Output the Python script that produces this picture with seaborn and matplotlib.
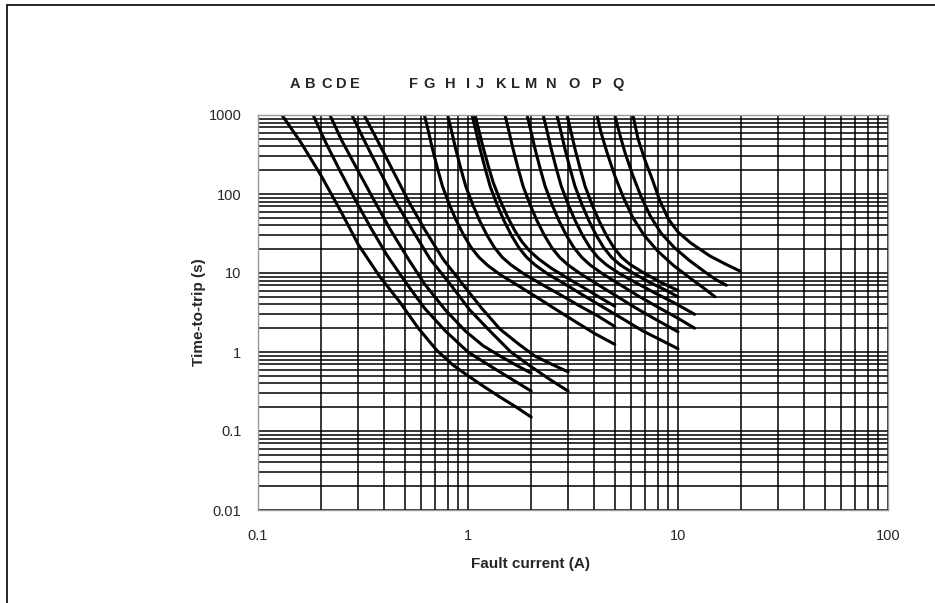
import pandas as pd
import matplotlib
matplotlib.use('Agg')
import matplotlib.pyplot as plt
import matplotlib.transforms as mtransforms
from matplotlib.patches import Rectangle
import seaborn as sns

# --------------------------
# Data: time-current curves A..Q (fault current in A, time-to-trip in s)
# --------------------------
curve_names = list("ABCDEFGHIJKLMNOPQ")

curve_a_x = [0.13, 0.16, 0.20, 0.25, 0.30, 0.38, 0.47, 0.58, 0.71, 0.85, 1.0, 1.2, 1.45, 1.7, 2.0]
curve_a_y = [1000, 450, 170, 58, 23, 9.0, 4.4, 2.0, 1.05, 0.68, 0.50, 0.36, 0.26, 0.20, 0.15]
curve_b_x = [0.183, 0.21, 0.246, 0.29, 0.341, 0.41, 0.50, 0.62, 0.78, 1.0, 1.27, 1.6, 2.0]
curve_b_y = [1000, 450, 195, 85, 39, 17, 7.9, 3.6, 1.85, 1.0, 0.67, 0.46, 0.32]
curve_c_x = [0.22, 0.25, 0.30, 0.36, 0.425, 0.52, 0.62, 0.78, 0.97, 1.18, 1.42, 1.7, 2.0]
curve_c_y = [1000, 480, 195, 80, 36, 15, 7.3, 3.4, 1.85, 1.2, 0.89, 0.68, 0.54]
curve_d_x = [0.28, 0.32, 0.38, 0.45, 0.54, 0.66, 0.82, 1.02, 1.27, 1.6, 1.97, 2.45, 3.0]
curve_d_y = [1000, 480, 195, 82, 36, 15, 7.3, 3.4, 1.85, 1.0, 0.67, 0.45, 0.32]
curve_e_x = [0.32, 0.37, 0.44, 0.52, 0.62, 0.76, 0.94, 1.16, 1.42, 1.75, 2.08, 2.5, 3.0]
curve_e_y = [1000, 480, 195, 82, 36, 15, 7.3, 3.6, 1.95, 1.25, 0.89, 0.70, 0.56]
curve_f_x = [0.62, 0.645, 0.676, 0.716, 0.756, 0.818, 0.880, 0.955, 1.035, 1.128, 1.24, 1.426,
             1.736, 2.108, 2.604, 3.224, 4.03, 5.0]
curve_f_y = [1000, 650, 380, 210, 125, 72, 46, 30, 21, 15.8, 12.5, 9.5, 6.9, 5.0, 3.5, 2.45, 1.7, 1.25]
curve_g_x = [0.80, 0.832, 0.872, 0.924, 0.976, 1.056, 1.136, 1.232, 1.336, 1.456, 1.60, 1.84,
             2.24, 2.72, 3.36, 4.16, 5.0]
curve_g_y = [1000, 650, 380, 210, 125, 72, 46, 30, 21, 15.8, 12.7, 9.8, 7.2, 5.4, 3.9, 2.85, 2.1]
curve_h_x = [1.045, 1.087, 1.139, 1.207, 1.275, 1.379, 1.484, 1.609, 1.745, 1.902, 2.09, 2.40,
             2.93, 3.55, 4.39, 5.43, 6.79, 8.36, 10]
curve_h_y = [1000, 650, 380, 210, 125, 72, 46, 30, 21, 15.8, 12.6, 9.7, 7.1, 5.2, 3.7, 2.65, 1.85, 1.4, 1.1]
curve_i_x = [1.08, 1.123, 1.177, 1.247, 1.318, 1.426, 1.534, 1.663, 1.804, 1.966, 2.16, 2.48,
             3.02, 3.67, 4.3, 5.0]
curve_i_y = [1000, 660, 400, 230, 140, 82, 53, 35, 25, 19, 15.2, 11.6, 8.4, 6.2, 4.8, 3.8]
curve_j_x = [1.5, 1.56, 1.635, 1.733, 1.83, 1.98, 2.13, 2.31, 2.505, 2.73, 3.0, 3.45, 4.2, 5.1,
             6.3, 7.8, 10]
curve_j_y = [1000, 650, 380, 210, 125, 72, 46, 30, 21, 15.8, 12.6, 9.7, 7.0, 5.1, 3.6, 2.6, 1.8]
curve_k_x = [1.91, 1.986, 2.082, 2.206, 2.33, 2.52, 2.71, 2.94, 3.19, 3.48, 3.82, 4.39, 5.35,
             6.49, 8.02, 9.93, 12]
curve_k_y = [1000, 650, 380, 210, 125, 72, 46, 30, 21, 15.8, 12.6, 9.7, 7.0, 5.1, 3.7, 2.7, 2.0]
curve_l_x = [2.28, 2.371, 2.485, 2.633, 2.782, 3.01, 3.238, 3.511, 3.808, 4.15, 4.56, 5.24,
             6.38, 7.75, 9.58, 12]
curve_l_y = [1000, 650, 380, 210, 125, 72, 46, 30, 21, 15.8, 12.7, 9.9, 7.4, 5.6, 4.2, 3.0]
curve_m_x = [2.65, 2.756, 2.889, 3.061, 3.233, 3.498, 3.763, 4.081, 4.426, 4.82, 5.3, 6.1, 7.4,
             8.7, 10]
curve_m_y = [1000, 650, 380, 210, 125, 72, 46, 30, 21, 15.8, 12.7, 10.0, 7.5, 6.1, 5.0]
curve_n_x = [2.96, 3.078, 3.226, 3.419, 3.611, 3.907, 4.203, 4.558, 4.943, 5.39, 5.92, 6.8, 8.3, 10]
curve_n_y = [1000, 650, 380, 210, 125, 72, 46, 30, 21, 15.8, 12.8, 10.2, 7.6, 6.0]
curve_o_x = [4.11, 4.3, 4.6, 5.0, 5.5, 6.1, 6.9, 8.0, 9.5, 11.5, 13.2, 15]
curve_o_y = [1000, 600, 330, 170, 90, 50, 30, 19, 12.5, 8.5, 6.5, 5.0]
curve_p_x = [5.0, 5.25, 5.6, 6.1, 6.7, 7.4, 8.3, 9.6, 11.3, 13.5, 15.2, 17]
curve_p_y = [1000, 600, 330, 170, 90, 52, 32, 21, 14.5, 10.2, 8.2, 7.0]
curve_q_x = [6.1, 6.45, 6.99, 7.5, 8.2, 9.0, 10, 11.5, 14.2, 17, 19.7]
curve_q_y = [1000, 500, 260, 160, 82, 48, 33, 24, 16.4, 12.8, 10.6]

x_ticks = [0.1, 1, 10, 100]
x_tick_labels = ["0.1", "1", "10", "100"]
y_ticks = [0.01, 0.1, 1, 10, 100, 1000]
y_tick_labels = ["0.01", "0.1", "1", "10", "100", "1000"]

# --------------------------
# Build long-form table
# --------------------------
all_x = [curve_a_x, curve_b_x, curve_c_x, curve_d_x, curve_e_x, curve_f_x,
         curve_g_x, curve_h_x, curve_i_x, curve_j_x, curve_k_x, curve_l_x,
         curve_m_x, curve_n_x, curve_o_x, curve_p_x, curve_q_x]
all_y = [curve_a_y, curve_b_y, curve_c_y, curve_d_y, curve_e_y, curve_f_y,
         curve_g_y, curve_h_y, curve_i_y, curve_j_y, curve_k_y, curve_l_y,
         curve_m_y, curve_n_y, curve_o_y, curve_p_y, curve_q_y]

rows = []
for name, xs, ys in zip(curve_names, all_x, all_y):
    for xv, yv in zip(xs, ys):
        rows.append({'curve': name, 'current': xv, 'time': yv})
df = pd.DataFrame(rows)

# --------------------------
# Plot
# --------------------------
sns.set_style('white')
plt.rcParams['font.family'] = ['Liberation Sans', 'DejaVu Sans']

fig = plt.figure(figsize=(9.35, 6.03), dpi=100)
ax = fig.add_axes([258 / 935, 1 - 510 / 603, 630 / 935, 395 / 603])

ax.set_xscale('log')
ax.set_yscale('log')
ax.set_xlim(0.1, 100)
ax.set_ylim(0.01, 1000)

ax.grid(True, which='both', color='black', linewidth=1.1)
ax.set_axisbelow(True)

sns.lineplot(data=df, x='current', y='time', hue='curve',
             estimator=None, sort=False, palette=['black'] * len(curve_names),
             linewidth=2.2, legend=False, ax=ax)

for spine in ax.spines.values():
    spine.set_color('#999999')
    spine.set_linewidth(1.0)

ax.set_xticks(x_ticks)
ax.set_xticklabels(x_tick_labels)
ax.set_yticks(y_ticks)
ax.set_yticklabels(y_tick_labels)
ax.tick_params(axis='both', which='both', length=0, labelsize=10.5)
ax.tick_params(axis='x', pad=14)
ax.tick_params(axis='y', pad=12)

ax.set_xlabel('Fault current (A)', fontsize=11, fontweight='bold', labelpad=4)
ax.xaxis.set_label_coords(0.433, -0.119)
ax.set_ylabel('Time-to-trip (s)', fontsize=11, fontweight='bold', labelpad=2)

# curve letters above the plot
label_x = [0.15, 0.177, 0.212, 0.25, 0.29, 0.55, 0.65, 0.82, 1.0, 1.14,
           1.44, 1.68, 2.0, 2.5, 3.2, 4.1, 5.2]
trans = mtransforms.blended_transform_factory(ax.transData, ax.transAxes)
for name, lx in zip(curve_names, label_x):
    ax.text(lx, 1.078, name, transform=trans, ha='center', va='center',
            fontsize=10.5, fontweight='bold')

# page frame (left and top edges)
fig.patches.append(Rectangle((7 / 935, -0.1), 1.2, 1.1 - 5 / 603,
                             transform=fig.transFigure, fill=False,
                             edgecolor='black', linewidth=1.2))

plt.savefig('out.png', dpi=100)
